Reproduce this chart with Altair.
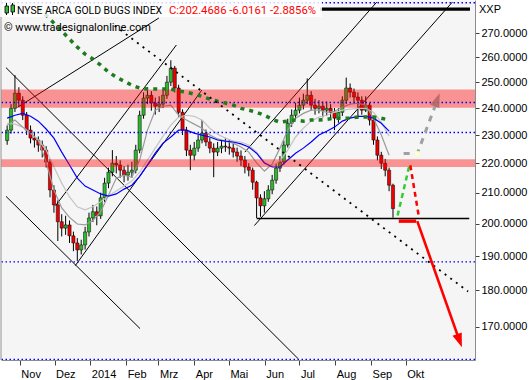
import altair as alt
import pandas as pd

# ---------------- data ----------------
candle_start = "2013-10-21"
candle_end = "2014-09-20"
first_open = 228.0
close = [231.8, 239.9, 245.7, 243.0, 237.3, 231.8, 228.9, 228.2, 226.4, 224.6,
         220.4, 210.9, 206.0, 200.6, 198.6, 199.6, 196.2, 194.0, 191.9, 193.4,
         197.4, 201.8, 203.8, 202.5, 208.3, 213.2, 216.9, 220.0, 219.4, 217.6,
         215.9, 216.9, 217.6, 224.6, 237.3, 243.8, 244.9, 241.9, 240.7, 241.5,
         244.9, 250.0, 255.6, 247.7, 238.4, 231.8, 224.6, 222.8, 225.3, 228.2,
         230.7, 227.5, 225.3, 223.9, 225.3, 226.0, 225.7, 225.3, 223.9, 222.5,
         221.1, 218.7, 217.6, 213.5, 208.3, 205.7, 208.0, 210.9, 214.2, 218.3,
         220.4, 226.4, 234.3, 237.3, 239.2, 241.1, 243.0, 244.9, 241.1, 239.9,
         240.7, 239.2, 239.9, 238.4, 236.2, 238.4, 243.0, 247.7, 246.1, 244.2,
         243.0, 239.2, 241.1, 235.5, 228.2, 222.8, 220.0, 217.6, 212.5, 204.8]
high = [233.5, 241.5, 252.8, 248.0, 244.5, 238.5, 233.5, 231.0, 229.5, 228.0,
        226.0, 221.5, 212.5, 207.5, 203.0, 202.5, 201.0, 197.5, 195.5, 195.0,
        199.0, 203.5, 206.0, 205.5, 210.0, 215.0, 218.5, 224.6, 222.5, 221.0,
        219.0, 219.5, 220.5, 226.5, 239.0, 246.0, 248.0, 246.5, 244.0, 244.5,
        247.0, 252.5, 258.8, 256.5, 249.0, 239.5, 233.0, 226.5, 227.5, 230.0,
        235.5, 232.0, 229.0, 227.0, 227.5, 228.0, 229.0, 228.5, 227.0, 225.5,
        224.5, 222.5, 220.0, 218.5, 214.0, 209.5, 210.5, 212.5, 216.0, 220.0,
        222.5, 228.0, 236.0, 239.5, 242.0, 244.0, 245.5, 251.5, 246.5, 243.5,
        243.0, 242.5, 242.5, 241.5, 240.0, 240.0, 244.5, 251.8, 249.5, 247.5,
        246.0, 244.5, 244.5, 242.0, 236.0, 229.5, 224.0, 221.5, 218.5, 213.0]
low = [226.5, 230.5, 238.5, 240.5, 235.5, 230.0, 227.0, 225.5, 224.0, 222.0,
       218.5, 208.5, 203.5, 194.6, 196.0, 196.5, 194.0, 191.5, 188.6, 190.5,
       192.0, 196.0, 200.5, 199.5, 201.5, 207.0, 211.5, 215.5, 216.5, 215.0,
       213.5, 214.0, 215.0, 216.5, 223.5, 236.0, 241.5, 239.0, 237.5, 238.5,
       240.0, 243.5, 248.5, 246.0, 236.5, 230.0, 222.5, 217.6, 221.0, 224.0,
       227.0, 226.0, 223.5, 215.2, 222.5, 223.5, 224.0, 223.0, 222.0, 220.5,
       219.0, 216.5, 215.5, 211.0, 201.8, 202.2, 203.5, 207.0, 209.5, 213.0,
       217.0, 219.5, 225.5, 233.0, 236.0, 238.0, 239.5, 241.5, 239.0, 237.5,
       238.0, 236.5, 237.0, 235.5, 231.8, 234.5, 237.0, 241.5, 244.0, 242.0,
       236.0, 237.5, 238.5, 233.5, 226.5, 221.0, 218.0, 215.5, 210.5, 201.9]

# moving averages, one value every second candle
blue_ma = [236.2, 237.3, 238.0, 236.9, 235.1, 232.2, 228.9, 223.9, 219.4, 214.9,
           212.2, 210.9, 209.6, 208.9, 209.6, 211.2, 212.5, 215.5, 219.4, 223.5,
           227.1, 229.3, 231.8, 231.8, 230.7, 230.0, 229.3, 228.2, 227.8, 227.5,
           226.8, 225.7, 223.5, 220.1, 218.7, 218.7, 221.1, 223.5, 225.3, 227.5,
           230.0, 231.4, 232.9, 235.1, 236.2, 236.9, 236.9, 236.2, 234.3, 231.4]
gray_a = [233.6, 235.5, 232.9, 230.7, 228.2, 220.4, 210.9, 205.0, 202.0, 199.9,
          199.6, 201.0, 203.8, 209.2, 214.9, 215.9, 215.2, 221.1, 231.8, 239.2,
          240.7, 241.1, 237.3, 235.5, 234.0, 232.5, 230.0, 228.6, 227.8, 227.1,
          225.7, 223.9, 220.1, 217.3, 219.7, 225.3, 231.8, 236.2, 238.0, 239.2,
          239.2, 238.4, 238.8, 240.3, 241.5, 241.9, 241.1, 236.2, 230.0, 222.8]
gray_b = [234.3, 234.0, 232.9, 230.7, 228.2, 224.6, 218.7, 213.2, 208.6, 205.4,
          204.4, 205.4, 207.0, 208.9, 210.6, 212.2, 213.9, 216.9, 221.1, 225.3,
          229.6, 233.6, 236.6, 237.3, 236.9, 235.5, 232.5, 230.3, 228.9, 227.8,
          227.5, 226.4, 223.9, 220.4, 219.0, 220.8, 224.6, 229.3, 232.5, 235.1,
          236.6, 237.3, 238.4, 239.2, 239.6, 239.9, 239.9, 238.4, 234.7, 229.6]
green_ma = [None, None, None, None, 281.0, 277.9, 274.4, 271.0, 267.6, 264.2,
            261.3, 259.3, 256.8, 254.0, 252.0, 250.4, 248.8, 247.7, 247.3, 247.3,
            247.3, 247.3, 246.5, 246.1, 245.3, 244.5, 243.4, 242.6, 241.9, 241.1,
            239.9, 239.2, 238.4, 237.3, 235.8, 234.7, 235.1, 235.5, 235.1, 235.5,
            235.5, 235.8, 236.2, 236.2, 236.2, 236.6, 236.6, 236.6, 236.2, 235.5]

band_lo = [240.1, 218.7]
band_hi = [247.1, 221.4]
dotted_levels = [283.4, 242.1, 230.9, 188.3, 161.45]

# thin black trend lines: id, start date, start value, end date, end value
trend_ids = ["L1", "LA", "LB", "LC", "L4", "LD", "LE"]
trend_d1 = ["2013-10-30T00:00:00", "2013-10-20T00:00:00", "2013-10-20T00:00:00",
            "2013-12-19T00:00:00", "2013-12-02T00:00:00", "2014-05-14T19:00:00",
            "2014-05-23T00:00:00"]
trend_v1 = [240.3, 255.8, 208.8, 187.2, 205.8, 223.9, 199.4]
trend_d2 = ["2014-03-01T07:00:00", "2014-06-30T00:00:00", "2014-02-13T00:00:00",
            "2014-04-07T12:00:00", "2014-03-16T12:00:00", "2014-09-06T00:00:00",
            "2014-11-10T12:00:00"]
trend_v2 = [276.6, 161.6, 169.5, 246.9, 265.1, 283.7, 283.7]

dot_line_d = ["2014-01-22T02:00:00", "2014-11-24T00:00:00"]
dot_line_v = [273.3, 179.7]

top_line = ("2014-07-19T00:00:00", "2014-11-25T16:00:00", 280.5)
support_line = ("2014-05-25T00:00:00", "2014-11-25T00:00:00", 201.6)
red_flat = ("2014-09-25T00:00:00", "2014-10-10T00:00:00", 200.8)

green_dash_d = ["2014-09-24T00:00:00", "2014-10-04T00:00:00"]
green_dash_v = [202.6, 218.9]
red_dash_d = ["2014-10-05T00:00:00", "2014-10-12T16:00:00"]
red_dash_v = [219.3, 201.6]
red_arrow_d = ["2014-10-11T00:00:00", "2014-11-16T14:00:00"]
red_arrow_v = [200.8, 166.3]
gray_arrow_d = ["2014-09-29T05:00:00", "2014-10-11T02:00:00", "2014-10-27T02:00:00"]
gray_arrow_v = [223.4, 223.4, 241.5]
gray_head = ("2014-10-28T07:00:00", 243.2)

y_ticks = [170, 180, 190, 200, 210, 220, 230, 240, 250, 260, 270]
month_names = ['Jan', 'Feb', 'Mrz', 'Apr', 'Mai', 'Jun', 'Jul', 'Aug', 'Sep', 'Okt', 'Nov', 'Dez']

# ---------------- frames ----------------
dates = pd.date_range(candle_start, candle_end, periods=len(close))
ds = [d.strftime("%Y-%m-%dT%H:%M:%S") for d in dates]
opens = [first_open] + close[:-1]
candles = pd.DataFrame({"date": ds, "o": opens, "h": high, "l": low, "c": close})
candles["dir"] = ["up" if c >= o else "down" for o, c in zip(opens, close)]

ma_dates = ds[::2]
ma = pd.DataFrame({"date": ma_dates, "blue": blue_ma, "ga": gray_a, "gb": gray_b, "green": green_ma})

trend = pd.DataFrame({
    "id": trend_ids + trend_ids,
    "date": trend_d1 + trend_d2,
    "v": trend_v1 + trend_v2,
})

# ---------------- scales / axes ----------------
xs = alt.Scale(domain=[alt.DateTime(year=2013, month=10, date=20),
                       alt.DateTime(year=2014, month=11, date=25, hours=16)], nice=False)
ys = alt.Scale(type="log", domain=[161.3, 284.6], nice=False)

tick_dates = [alt.DateTime(year=2013, month=11, date=1), alt.DateTime(year=2013, month=12, date=1)] + \
             [alt.DateTime(year=2014, month=m, date=1) for m in range(1, 11)]
names_js = "[" + ",".join("'%s'" % m for m in month_names) + "]"
xaxis = alt.Axis(values=tick_dates, title=None, grid=False, tickSize=5,
                 labelExpr="month(datum.value) == 0 ? timeFormat(datum.value, '%Y') : " + names_js + "[month(datum.value)]",
                 labelAlign="left", labelBaseline="alphabetic", labelPadding=12, labelOffset=1,
                 labelFont="Liberation Sans", labelFontSize=11, labelColor="#000000",
                 domainColor="#8c8c8c", tickColor="#404040", labelFlush=False, labelOverlap=False)
yaxis = alt.Axis(orient="right", values=y_ticks, format=".4f", title=None, grid=False,
                 tickSize=4, labelPadding=2, labelFont="Liberation Sans", labelFontSize=11,
                 labelColor="#000000", domainColor="#8c8c8c", tickColor="#404040",
                 labelFlush=False, labelOverlap=False)


def X(field="date"):
    return alt.X(field, type="temporal", scale=xs, axis=xaxis, title=None)


def Y(field):
    return alt.Y(field, type="quantitative", scale=ys, axis=yaxis, title=None)


def two_point(d, v):
    return pd.DataFrame({"date": d, "v": v, "k": list(range(len(d)))})


layers = []

# trend lines
layers.append(alt.Chart(trend).mark_line(color="#000000", strokeWidth=1, clip=True).encode(
    x=X(), y=Y("v"), detail="id:N"))

# candles
layers.append(alt.Chart(candles).mark_rule(color="#000000", strokeWidth=1).encode(
    x=X(), y=Y("l"), y2="h"))
layers.append(alt.Chart(candles).mark_bar(size=3.2, stroke="#000000", strokeWidth=0.5).encode(
    x=X(), y=Y("o"), y2="c",
    color=alt.Color("dir:N", scale=alt.Scale(domain=["up", "down"], range=["#2eb82e", "#ee0000"]), legend=None)))

# moving averages
layers.append(alt.Chart(ma).mark_line(color="#c4c4c4", strokeWidth=1.2).encode(x=X(), y=Y("gb")))
layers.append(alt.Chart(ma).mark_line(color="#9a9a9a", strokeWidth=1.2).encode(x=X(), y=Y("ga")))
layers.append(alt.Chart(ma).mark_line(color="#0000ff", strokeWidth=1.2).encode(x=X(), y=Y("blue")))

# resistance / support bands
bands = pd.DataFrame({"lo": band_lo, "hi": band_hi})
layers.append(alt.Chart(bands).mark_rect(color="#ff0000", opacity=0.4).encode(
    x=alt.value(0), x2=alt.value(474), y=Y("lo"), y2="hi"))

# blue dotted levels
levels = pd.DataFrame({"v": dotted_levels})
layers.append(alt.Chart(levels).mark_rule(color="#0000ff", strokeWidth=1.4, strokeDash=[1.5, 2.5]).encode(
    y=Y("v")))

# 200-day style green MA
layers.append(alt.Chart(ma.dropna()).mark_line(color="#1e7b1e", strokeWidth=3.5, strokeDash=[4, 5], clip=True).encode(
    x=X(), y=Y("green")))

# dotted downtrend line
layers.append(alt.Chart(two_point(dot_line_d, dot_line_v)).mark_line(
    color="#000000", strokeWidth=1.8, strokeDash=[2, 5], clip=True).encode(x=X(), y=Y("v")))

# horizontal black lines
hl = pd.DataFrame({"d1": [top_line[0], support_line[0]], "d2": [top_line[1], support_line[1]],
                   "v": [top_line[2], support_line[2]], "w": [3.2, 1.5]})
layers.append(alt.Chart(hl).mark_rule(color="#000000").encode(
    x=X("d1"), x2="d2", y=Y("v"), strokeWidth=alt.StrokeWidth("w:Q", scale=None, legend=None)))

# red flat segment
rf = pd.DataFrame({"d1": [red_flat[0]], "d2": [red_flat[1]], "v": [red_flat[2]]})
layers.append(alt.Chart(rf).mark_rule(color="#ff0000", strokeWidth=3.5).encode(x=X("d1"), x2="d2", y=Y("v")))

# scenario dashed lines
layers.append(alt.Chart(two_point(green_dash_d, green_dash_v)).mark_line(
    color="#33cc33", strokeWidth=2.5, strokeDash=[5, 4]).encode(x=X(), y=Y("v")))
layers.append(alt.Chart(two_point(red_dash_d, red_dash_v)).mark_line(
    color="#ff0000", strokeWidth=2.5, strokeDash=[5, 4]).encode(x=X(), y=Y("v")))
layers.append(alt.Chart(two_point(gray_arrow_d, gray_arrow_v)).mark_line(
    color="#a0a0a0", strokeWidth=3, strokeDash=[6, 6]).encode(x=X(), y=Y("v"), order="k:Q"))
layers.append(alt.Chart(pd.DataFrame({"date": [gray_arrow_d[1]], "v": [gray_arrow_v[1]]})).mark_point(
    shape="square", filled=True, size=22, color="#ffffcc", opacity=1).encode(x=X(), y=Y("v")))
head_path = "M-0.7,-1L0.7,-1L0,1Z"
layers.append(alt.Chart(pd.DataFrame({"date": [gray_head[0]], "v": [gray_head[1]]})).mark_point(
    shape=head_path, filled=True, size=196, angle=201, color="#b46464", opacity=0.85).encode(x=X(), y=Y("v")))

# red arrow
layers.append(alt.Chart(two_point(red_arrow_d, red_arrow_v)).mark_line(
    color="#ff0000", strokeWidth=2.6).encode(x=X(), y=Y("v")))
layers.append(alt.Chart(pd.DataFrame({"date": [red_arrow_d[1]], "v": [red_arrow_v[1]]})).mark_point(
    shape=head_path, filled=True, size=196, angle=340, color="#ff0000", opacity=1).encode(x=X(), y=Y("v")))

# decorations: left border, title box, texts
one = pd.DataFrame({"a": [0]})
layers.append(alt.Chart(one).mark_rule(color="#8c8c8c", strokeWidth=1).encode(
    x=alt.value(0), y=alt.value(0), y2=alt.value(360)))
layers.append(alt.Chart(one).mark_rect(color="#ffffff", opacity=0.82).encode(
    x=alt.value(-1), x2=alt.value(321), y=alt.value(0), y2=alt.value(17)))
# small candle icon
layers.append(alt.Chart(one).mark_rule(color="#000000", strokeWidth=1).encode(
    x=alt.value(5.5), y=alt.value(3), y2=alt.value(15)))
layers.append(alt.Chart(one).mark_rule(color="#000000", strokeWidth=1).encode(
    x=alt.value(11.5), y=alt.value(3), y2=alt.value(15)))
layers.append(alt.Chart(one).mark_rect(color="#33bb33", stroke="#000000", strokeWidth=0.8).encode(
    x=alt.value(4), x2=alt.value(7.5), y=alt.value(6), y2=alt.value(13)))
layers.append(alt.Chart(one).mark_rect(color="#33bb33", stroke="#000000", strokeWidth=0.8).encode(
    x=alt.value(10), x2=alt.value(13.5), y=alt.value(5), y2=alt.value(12)))

text_font = "Roboto"
layers.append(alt.Chart(one).mark_text(text="NYSE ARCA GOLD BUGS INDEX", align="left", baseline="alphabetic",
                                       font=text_font, fontSize=10.4, color="#000000").encode(
    x=alt.value(16), y=alt.value(13.5)))
layers.append(alt.Chart(one).mark_text(text="C:202.4686 -6.0161 -2.8856%", align="left", baseline="alphabetic",
                                       font=text_font, fontSize=11.3, color="#ff0000").encode(
    x=alt.value(168), y=alt.value(13.5)))
layers.append(alt.Chart(one).mark_text(text="\u00a9 www.tradesignalonline.com", align="left", baseline="alphabetic",
                                       font=text_font, fontSize=11, color="#000000").encode(
    x=alt.value(3), y=alt.value(30.5)))
layers.append(alt.Chart(one).mark_text(text="XXP", align="left", baseline="alphabetic",
                                       font="Liberation Sans", fontSize=11, color="#000000").encode(
    x=alt.value(478), y=alt.value(13)))

chart = alt.layer(*layers).properties(
    width=474, height=360,
    padding={"left": 1, "top": 0, "right": 55, "bottom": 20},
    autosize="none",
    background="#ffffff",
).configure_view(fill="#f5f5f5", stroke="transparent")

chart.save("out.html", embed_options={"renderer": "svg", "actions": False})
